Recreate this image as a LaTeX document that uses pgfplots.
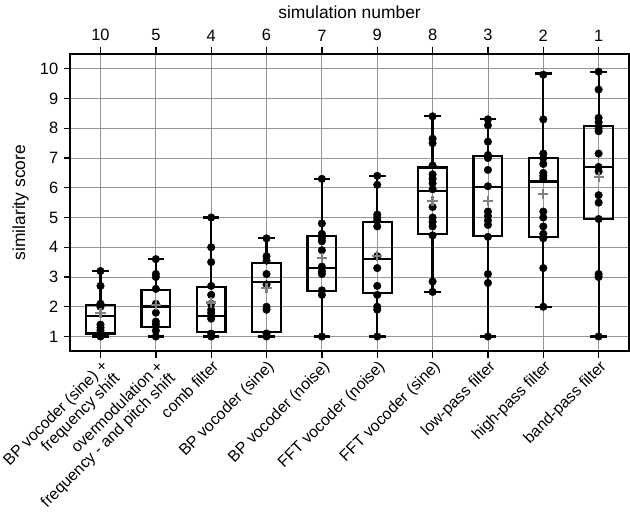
\documentclass[border=0pt]{standalone}
\usepackage{fontspec}
\setmainfont{Liberation Sans}
\usepackage{pgfplots}
\pgfplotsset{compat=1.18}
\usepgfplotslibrary{statistics}
\definecolor{gridgray}{RGB}{150,150,150}
\definecolor{meangray}{RGB}{128,128,128}
\newcommand{\bx}[6]{%
\addplot[black, line width=2.2pt, solid, mark=none, boxplot prepared={draw position=#1, lower whisker=#2, lower quartile=#3, median=#4, upper quartile=#5, upper whisker=#6, box extend=0.52, whisker extend=0.3}] coordinates {};}
\begin{document}
\fontsize{16}{19}\selectfont
\begin{tikzpicture}
\begin{axis}[
  scale only axis, width=545pt, height=290pt,
  xmin=-0.55, xmax=9.55, ymin=0.5, ymax=10.5,
  boxplot/draw direction=y,
  xtick={0,...,9},
  xticklabels={{BP vocoder (sine) +\\frequency shift},{overmodulation +\\frequency - and pitch shift},comb filter,BP vocoder (sine),BP vocoder (noise),FFT vocoder (noise),FFT vocoder (sine),low-pass filter,high-pass filter,band-pass filter},
  xticklabel style={rotate=45, anchor=north east, align=right, font=\fontsize{15.5}{16.5}\selectfont, inner sep=1pt},
  ytick={1,...,10},
  yticklabel style={font=\fontsize{16}{19}\selectfont},
  /pgf/number format/assume math mode=true,
  xtick pos=lower, ytick pos=left,
  tick align=outside, major tick length=6pt,
  tick style={black, line width=1.3pt},
  grid=major, major grid style={gridgray, line width=0.8pt},
  axis line style={line width=1.8pt},
  ylabel={similarity score},
  ylabel style={font=\fontsize{17}{19}\selectfont},
]
\bx{0}{1.0}{1.10}{1.70}{2.07}{3.2}
\bx{1}{1.0}{1.32}{2.01}{2.56}{3.6}
\bx{2}{1.0}{1.15}{1.70}{2.66}{5.0}
\bx{3}{1.0}{1.15}{2.82}{3.47}{4.31}
\bx{4}{1.0}{2.53}{3.31}{4.38}{6.3}
\bx{5}{1.0}{2.45}{3.60}{4.86}{6.4}
\bx{6}{2.5}{4.44}{5.90}{6.68}{8.4}
\bx{7}{1.0}{4.37}{6.02}{7.07}{8.3}
\bx{8}{2.0}{4.34}{6.21}{6.99}{9.84}
\bx{9}{1.0}{4.94}{6.70}{8.07}{9.9}
\addplot[only marks, mark=*, mark size=3.7pt, black] coordinates {
(0,3.2)(0,2.7)(0,2.1)(0,2.0)(0,1.4)(0,1.3)(0,1.2)(0,1.1)(0,1.0)
(1,3.6)(1,3.1)(1,3.0)(1,2.6)(1,2.1)(1,1.8)(1,1.5)(1,1.4)(1,1.2)(1,1.0)
(2,5.0)(2,4.0)(2,3.5)(2,2.7)(2,2.4)(2,2.1)(2,1.9)(2,1.8)(2,1.7)(2,1.6)(2,1.1)(2,1.0)
(3,4.3)(3,3.7)(3,3.55)(3,3.1)(3,2.75)(3,2.0)(3,1.9)(3,1.1)(3,1.0)
(4,6.3)(4,4.8)(4,4.45)(4,4.3)(4,4.2)(4,3.9)(4,3.35)(4,3.2)(4,3.1)(4,2.55)(4,2.4)(4,1.0)
(5,6.4)(5,6.1)(5,5.1)(5,5.0)(5,4.9)(5,4.7)(5,3.7)(5,3.3)(5,2.7)(5,2.4)(5,2.0)(5,1.9)(5,1.0)
(6,8.4)(6,7.65)(6,7.5)(6,6.75)(6,6.45)(6,6.3)(6,6.15)(6,5.95)(6,5.35)(6,5.0)(6,4.85)(6,4.7)(6,4.4)(6,2.85)(6,2.5)
(7,8.3)(7,8.1)(7,7.55)(7,7.1)(7,7.0)(7,6.6)(7,6.05)(7,5.2)(7,5.05)(7,4.9)(7,4.75)(7,4.35)(7,3.1)(7,2.8)(7,1.0)
(8,9.8)(8,8.3)(8,7.15)(8,7.0)(8,6.8)(8,6.5)(8,6.4)(8,6.3)(8,5.2)(8,5.0)(8,4.7)(8,4.45)(8,4.3)(8,3.3)(8,2.0)
(9,9.9)(9,9.3)(9,8.35)(9,8.2)(9,8.0)(9,7.9)(9,7.15)(9,6.7)(9,6.55)(9,5.75)(9,5.5)(9,4.95)(9,3.1)(9,3.0)(9,1.0)
};
\addplot[only marks, mark=+, mark size=5pt, meangray, line width=2.2pt] coordinates {
(0,1.79)(1,2.07)(2,2.14)(3,2.62)(4,3.63)(5,3.71)(6,5.55)(7,5.55)(8,5.80)(9,6.36)};
\end{axis}
\begin{axis}[
  scale only axis, width=545pt, height=290pt,
  xmin=-0.55, xmax=9.55, ymin=0.5, ymax=10.5,
  axis x line*=top, hide y axis,
  xtick={0,...,9},
  xticklabels={10,5,4,6,7,9,8,3,2,1},
  xticklabel style={font=\fontsize{16}{19}\selectfont},
  /pgf/number format/assume math mode=true,
  tick align=outside, major tick length=7pt,
  tick style={black, line width=1.3pt},
  axis line style={line width=1.8pt},
  xlabel={simulation number},
  xlabel style={font=\fontsize{17}{19}\selectfont},
]
\end{axis}
\end{tikzpicture}
\end{document}
